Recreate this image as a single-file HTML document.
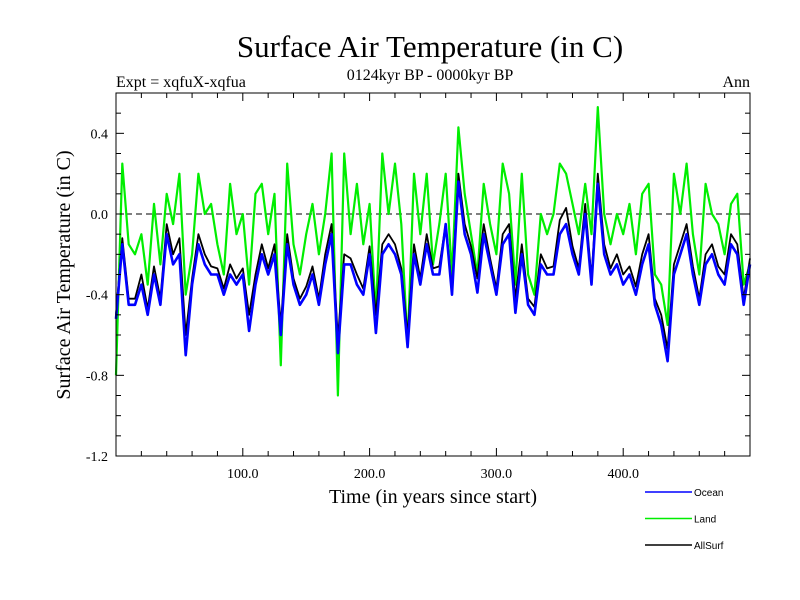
<!DOCTYPE html>
<html><head><meta charset="utf-8"><style>
body{margin:0;background:#fff;}
svg{display:block;font-family:"Liberation Serif",serif;}
</style></head><body>
<svg id="chart" width="800" height="600">
<rect x="0" y="0" width="800" height="600" fill="#fff"/>
<text x="430" y="57" font-size="31" text-anchor="middle">Surface Air Temperature (in C)</text>
<text x="430" y="80" font-size="16" text-anchor="middle">0124kyr BP - 0000kyr BP</text>
<text x="116" y="87" font-size="16">Expt = xqfuX-xqfua</text>
<text x="750" y="87" font-size="16" text-anchor="end">Ann</text>
<text transform="translate(70,275) rotate(-90)" font-size="20" text-anchor="middle">Surface Air Temperature (in C)</text>
<text x="433" y="503" font-size="20" text-anchor="middle">Time (in years since start)</text>
<g id="plot"></g>
<g id="legend"></g>
</svg>
<script>
const years=[0,5,10,15,20,25,30,35,40,45,50,55,60,65,70,75,80,85,90,95,100,105,110,115,120,125,130,135,140,145,150,155,160,165,170,175,180,185,190,195,200,205,210,215,220,225,230,235,240,245,250,255,260,265,270,275,280,285,290,295,300,305,310,315,320,325,330,335,340,345,350,355,360,365,370,375,380,385,390,395,400,405,410,415,420,425,430,435,440,445,450,455,460,465,470,475,480,485,490,495,500];
const landVals=[-0.8,0.25,-0.15,-0.2,-0.1,-0.35,0.05,-0.25,0.1,-0.05,0.2,-0.4,-0.2,0.2,0.0,0.05,-0.15,-0.3,0.15,-0.1,0.0,-0.35,0.1,0.15,-0.1,0.1,-0.75,0.25,-0.15,-0.3,-0.1,0.05,-0.2,0.0,0.3,-0.9,0.3,-0.1,0.15,-0.15,0.05,-0.5,0.3,0.0,0.25,-0.05,-0.65,0.2,-0.1,0.2,-0.25,-0.05,0.2,-0.3,0.43,0.1,-0.1,-0.3,0.15,-0.05,-0.2,0.25,0.1,-0.35,0.2,-0.3,-0.4,0.0,-0.1,0.0,0.25,0.2,0.05,-0.1,0.15,-0.1,0.53,0.0,-0.15,0.0,-0.1,0.05,-0.2,0.1,0.15,-0.3,-0.35,-0.55,0.2,0.0,0.25,-0.1,-0.3,0.15,0.0,-0.05,-0.2,0.05,0.1,-0.35,-0.25];
const allSurfVals=[-0.5,-0.12,-0.42,-0.42,-0.3,-0.47,-0.26,-0.42,-0.05,-0.2,-0.12,-0.6,-0.32,-0.1,-0.2,-0.26,-0.27,-0.37,-0.25,-0.32,-0.27,-0.5,-0.3,-0.15,-0.27,-0.15,-0.55,-0.1,-0.32,-0.42,-0.36,-0.26,-0.42,-0.2,-0.05,-0.62,-0.2,-0.22,-0.3,-0.37,-0.16,-0.5,-0.15,-0.1,-0.15,-0.27,-0.6,-0.15,-0.32,-0.1,-0.27,-0.26,-0.05,-0.37,0.2,-0.05,-0.16,-0.32,-0.05,-0.22,-0.37,-0.1,-0.05,-0.42,-0.15,-0.42,-0.46,-0.2,-0.27,-0.26,-0.03,0.03,-0.16,-0.27,0.05,-0.32,0.2,-0.15,-0.27,-0.2,-0.3,-0.26,-0.36,-0.2,-0.1,-0.42,-0.5,-0.67,-0.25,-0.15,-0.05,-0.26,-0.42,-0.2,-0.15,-0.26,-0.3,-0.1,-0.15,-0.42,-0.22];
const oceanVals=[-0.52,-0.15,-0.45,-0.45,-0.35,-0.5,-0.3,-0.45,-0.1,-0.25,-0.2,-0.7,-0.35,-0.15,-0.25,-0.3,-0.3,-0.4,-0.3,-0.35,-0.3,-0.58,-0.35,-0.2,-0.3,-0.2,-0.6,-0.15,-0.35,-0.45,-0.4,-0.3,-0.45,-0.25,-0.1,-0.69,-0.25,-0.25,-0.35,-0.4,-0.2,-0.59,-0.2,-0.15,-0.2,-0.3,-0.66,-0.2,-0.35,-0.15,-0.3,-0.3,-0.05,-0.4,0.16,-0.1,-0.2,-0.39,-0.1,-0.25,-0.4,-0.15,-0.1,-0.49,-0.2,-0.45,-0.5,-0.25,-0.3,-0.3,-0.1,-0.05,-0.2,-0.3,0.0,-0.35,0.15,-0.2,-0.3,-0.25,-0.35,-0.3,-0.4,-0.25,-0.15,-0.45,-0.55,-0.73,-0.3,-0.2,-0.1,-0.3,-0.45,-0.25,-0.2,-0.3,-0.35,-0.15,-0.2,-0.45,-0.25];
const yTicks=[0.4,0.0,-0.4,-0.8,-1.2];
const yTickLabels=["0.4","0.0","-0.4","-0.8","-1.2"];
const xTicks=[100,200,300,400];
const xTickLabels=["100.0","200.0","300.0","400.0"];

const L=116,R=750,T=93,B=456,xmin=0,xmax=500,ymin=-1.2,ymax=0.6;
const sx=v=>L+(v-xmin)/(xmax-xmin)*(R-L);
const sy=v=>B-(v-ymin)/(ymax-ymin)*(B-T);
const NS="http://www.w3.org/2000/svg";
const plot=document.getElementById('plot');
function mk(tag,attrs,parent){const e=document.createElementNS(NS,tag);for(const k in attrs)e.setAttribute(k,attrs[k]);(parent||plot).appendChild(e);return e;}

let z=mk('line',{x1:L,x2:R,y1:sy(0),y2:sy(0),stroke:'#000','stroke-width':1,'stroke-dasharray':'6,4'});



function series(vals,color,name,w){
  const d=vals.map((v,i)=>(i?'L':'M')+sx(years[i]).toFixed(1)+','+sy(v).toFixed(1)).join('');
  const p=mk('path',{d:d,fill:'none',stroke:color,'stroke-width':w,'stroke-linejoin':'round'});
  
  
}
series(landVals,'#00ee00','land-line',2.2);
series(allSurfVals,'#000','allsurf-line',1.8);
series(oceanVals,'#0000ff','ocean-line',2.6);

let f=mk('rect',{x:L,y:T,width:R-L,height:B-T,fill:'none',stroke:'#000','stroke-width':1});



for(let v=20;v<500;v+=20){
  const big=v%100===0;const len=big?8:5;
  mk('line',{x1:sx(v),x2:sx(v),y1:B,y2:B-len,stroke:'#000'});
  mk('line',{x1:sx(v),x2:sx(v),y1:T,y2:T+len,stroke:'#000'});
}
for(let k=-11;k<=5;k++){
  const v=k/10;const big=(k%4===0);const len=big?8:5;
  mk('line',{x1:L,x2:L+len,y1:sy(v),y2:sy(v),stroke:'#000'});
  mk('line',{x1:R,x2:R-len,y1:sy(v),y2:sy(v),stroke:'#000'});
}
yTicks.forEach((v,i)=>{
  const t=mk('text',{x:L-8,y:sy(v)+5,'font-size':14,'text-anchor':'end'});
  t.textContent=yTickLabels[i];
  
  
});
xTicks.forEach((v,i)=>{
  const t=mk('text',{x:sx(v),y:B+22,'font-size':14,'text-anchor':'middle'});
  t.textContent=xTickLabels[i];
  
  
});

const leg=document.getElementById('legend');
const legNames=["Ocean","Land","AllSurf"];
const legColors=["#0000ff","#00ee00","#000"];
legNames.forEach((n,i)=>{
  const y=492+i*26.5;
  const g=mk('g',{},leg);
  
  
  mk('line',{x1:645,x2:692,y1:y,y2:y,stroke:legColors[i],'stroke-width':1.5},g);
  const t=mk('text',{x:694,y:y+4,'font-size':10,'font-family':'Liberation Sans, sans-serif'},g);
  t.textContent=n;
});
</script>
</body></html>
